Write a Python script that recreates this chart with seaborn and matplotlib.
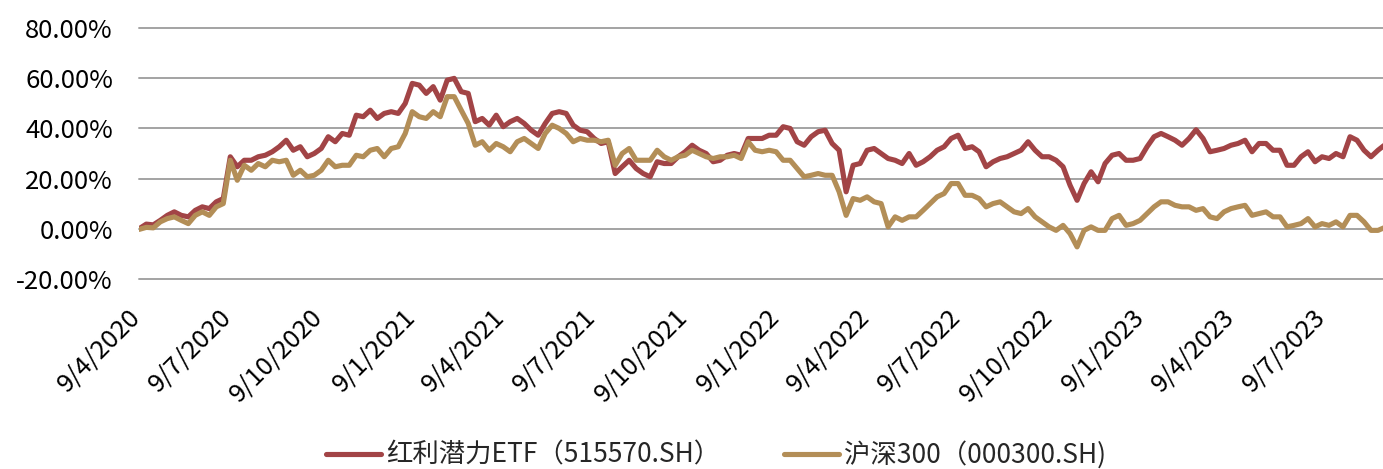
import matplotlib
matplotlib.use("Agg")
import matplotlib.pyplot as plt
import seaborn as sns
import pandas as pd
from matplotlib.ticker import FuncFormatter
from matplotlib.transforms import ScaledTranslation

# ---------------- data (cumulative return, %) ----------------
start_date = "2020-04-09"

etf_name = "红利潜力ETF（515570.SH）"
csi_name = "沪深300（000300.SH)"

etf_values = [
    0, 1.8, 1.5, 3.3, 5.3, 6.7, 5.3, 4.7, 7.3, 8.7, 8.0, 10.7, 12.0, 28.7, 24.7,
    27.3, 27.3, 28.7, 29.3, 30.7, 32.7, 35.3, 31.3, 32.7, 28.7, 30.0, 32.0, 36.7, 34.7, 38.0,
    37.3, 45.3, 44.7, 47.3, 44.0, 46.0, 46.7, 46.0, 50.0, 58.0, 57.3, 54.0, 56.7, 51.3, 59.3,
    60.0, 54.7, 54.0, 42.7, 44.0, 41.3, 45.3, 40.7, 42.7, 44.0, 42.0, 39.3, 37.3, 42.0, 46.0,
    46.7, 46.0, 41.3, 39.3, 38.7, 36.0, 34.0, 34.7, 22.0, 24.7, 27.3, 24.0, 22.0, 20.7, 26.7,
    26.0, 26.0, 28.7, 30.7, 33.3, 31.3, 30.0, 26.7, 27.3, 29.3, 30.0, 29.3, 36.0, 36.0,
    36.0, 37.3, 37.3, 40.7, 40.0, 34.7, 33.3, 36.7, 38.7, 39.3, 34.0, 31.3, 14.7, 25.3, 26.0,
    31.3, 32.0, 30.0, 28.0, 27.3, 26.0, 30.0, 25.3, 26.7, 28.7, 31.3, 32.7, 36.0, 37.3, 32.0,
    32.7, 30.7, 24.7, 26.7, 28.0, 28.7, 30.0, 31.3, 34.7, 31.3, 28.7, 28.7, 27.3, 24.7, 17.3,
    11.3, 18.0, 22.7, 18.7, 26.0, 29.3, 30.0, 27.3, 27.3, 28.0, 32.7, 36.7, 38.0, 36.7,
    35.3, 33.3, 36.0, 39.5, 36.0, 30.7, 31.3, 32.0, 33.3, 34.0, 35.3, 30.7, 34.0, 34.0, 31.3,
    31.3, 25.3, 25.3, 28.7, 30.7, 26.7, 28.7, 28.0, 30.0, 28.7, 36.7, 35.3, 31.3, 28.7, 31.3,
    33.5,
]

csi_values = [
    -0.3, 0.5, 0.3, 2.7, 4.0, 4.7, 3.3, 2.0, 5.3, 6.7, 5.3, 8.7, 10.0, 27.3, 19.3,
    25.3, 23.3, 26.0, 24.7, 27.3, 26.7, 27.3, 21.3, 23.3, 20.7, 21.3, 23.3, 27.3, 24.7, 25.3,
    25.3, 29.3, 28.7, 31.3, 32.0, 28.7, 32.0, 32.7, 38.0, 46.7, 44.7, 44.0, 46.7, 44.7, 52.7,
    52.7, 47.3, 42.0, 33.3, 34.7, 31.3, 34.0, 32.7, 30.7, 34.7, 36.0, 34.0, 32.0, 38.0, 41.3,
    40.0, 38.0, 34.7, 36.0, 35.3, 35.3, 34.7, 35.3, 25.3, 30.0, 32.0, 27.3, 27.3, 27.3, 31.3,
    28.7, 27.3, 28.7, 29.3, 31.3, 30.0, 28.7, 28.0, 28.7, 28.7, 29.3, 28.0, 34.7, 31.3,
    30.7, 31.3, 30.7, 27.3, 27.3, 24.0, 20.7, 21.3, 22.0, 21.3, 21.3, 14.7, 5.3, 12.0, 11.3,
    12.7, 10.7, 10.0, 0.7, 4.7, 3.3, 4.7, 4.7, 7.3, 10.0, 12.7, 14.0, 18.0, 18.0, 13.3,
    13.3, 12.0, 8.7, 10.0, 10.7, 8.7, 6.7, 6.0, 8.0, 4.7, 2.7, 0.7, -0.7, 1.3, -2.0,
    -7.3, -0.7, 0.7, -0.7, -0.7, 4.0, 5.3, 1.3, 2.0, 3.3, 6.0, 8.7, 10.7, 10.7,
    9.3, 8.7, 8.7, 7.3, 8.0, 4.7, 4.0, 6.7, 8.0, 8.7, 9.3, 5.3, 6.0, 6.7, 4.7,
    4.7, 0.7, 1.3, 2.0, 4.0, 0.7, 2.0, 1.3, 2.7, 0.7, 5.3, 5.3, 2.7, -0.7, -0.7,
    0.5,
]

tick_dates = ["2020-04-09", "2020-07-09", "2020-10-09", "2021-01-09", "2021-04-09",
              "2021-07-09", "2021-10-09", "2022-01-09", "2022-04-09", "2022-07-09",
              "2022-10-09", "2023-01-09", "2023-04-09", "2023-07-09"]
tick_labels = ["9/4/2020", "9/7/2020", "9/10/2020", "9/1/2021", "9/4/2021",
               "9/7/2021", "9/10/2021", "9/1/2022", "9/4/2022", "9/7/2022",
               "9/10/2022", "9/1/2023", "9/4/2023", "9/7/2023"]
y_ticks = [-20, 0, 20, 40, 60, 80]

# ---------------- build frame ----------------
dates = pd.date_range(start_date, periods=len(etf_values), freq="7D")
df = pd.DataFrame({
    "date": list(dates) * 2,
    "value": etf_values + csi_values,
    "series": [etf_name] * len(etf_values) + [csi_name] * len(csi_values),
})

RED = "#A24446"
TAN = "#B38E57"

sns.set_style("white")
plt.rcParams["font.family"] = ["Noto Sans CJK SC", "DejaVu Sans"]

W, H = 1383, 469
fig = plt.figure(figsize=(W / 100, H / 100), dpi=100)
left, right, top, bottom = 139.3, 1383, 28.3, 278.7
ax = fig.add_axes([left / W, 1 - bottom / H, (right - left) / W, (bottom - top) / H])

sns.lineplot(data=df, x="date", y="value", hue="series",
             hue_order=[etf_name, csi_name], palette=[RED, TAN],
             linewidth=3.7, estimator=None, sort=False, legend=False, ax=ax)

ax.set_xlim(pd.Timestamp("2020-04-09"), pd.Timestamp("2023-09-05"))
ax.set_ylim(-20, 80)
ax.set_yticks(y_ticks)
ax.yaxis.set_major_formatter(FuncFormatter(lambda v, p: f"{v:.2f}%"))
ax.set_xticks(pd.to_datetime(tick_dates))
ax.set_xticklabels(tick_labels, rotation=45, ha="right", va="top")
ax.set_xlabel("")
ax.set_ylabel("")

ax.grid(False)
ax.yaxis.grid(True, color="#a3a3a3", linewidth=1.4)
ax.set_axisbelow(True)
for s in ax.spines.values():
    s.set_visible(False)

ax.tick_params(axis="x", length=0, pad=18, labelsize=18.5, colors="#000000")
ax.tick_params(axis="y", length=0, pad=19, labelsize=18.5, colors="#000000")

offset = ScaledTranslation(6 / 100, 0, fig.dpi_scale_trans)
for lbl in ax.get_xticklabels():
    lbl.set_transform(lbl.get_transform() + offset)

for gl in ax.yaxis.get_gridlines():
    gl.set_clip_on(False)

lines = ax.get_lines()[:2]
fig.legend(handles=lines, labels=[etf_name, csi_name], loc="center",
           bbox_to_anchor=(716 / W, 1 - 455 / H), ncol=2, frameon=False,
           fontsize=19, handlelength=2.1, handletextpad=0.2, columnspacing=2.4)

fig.savefig("out.png", dpi=100)
